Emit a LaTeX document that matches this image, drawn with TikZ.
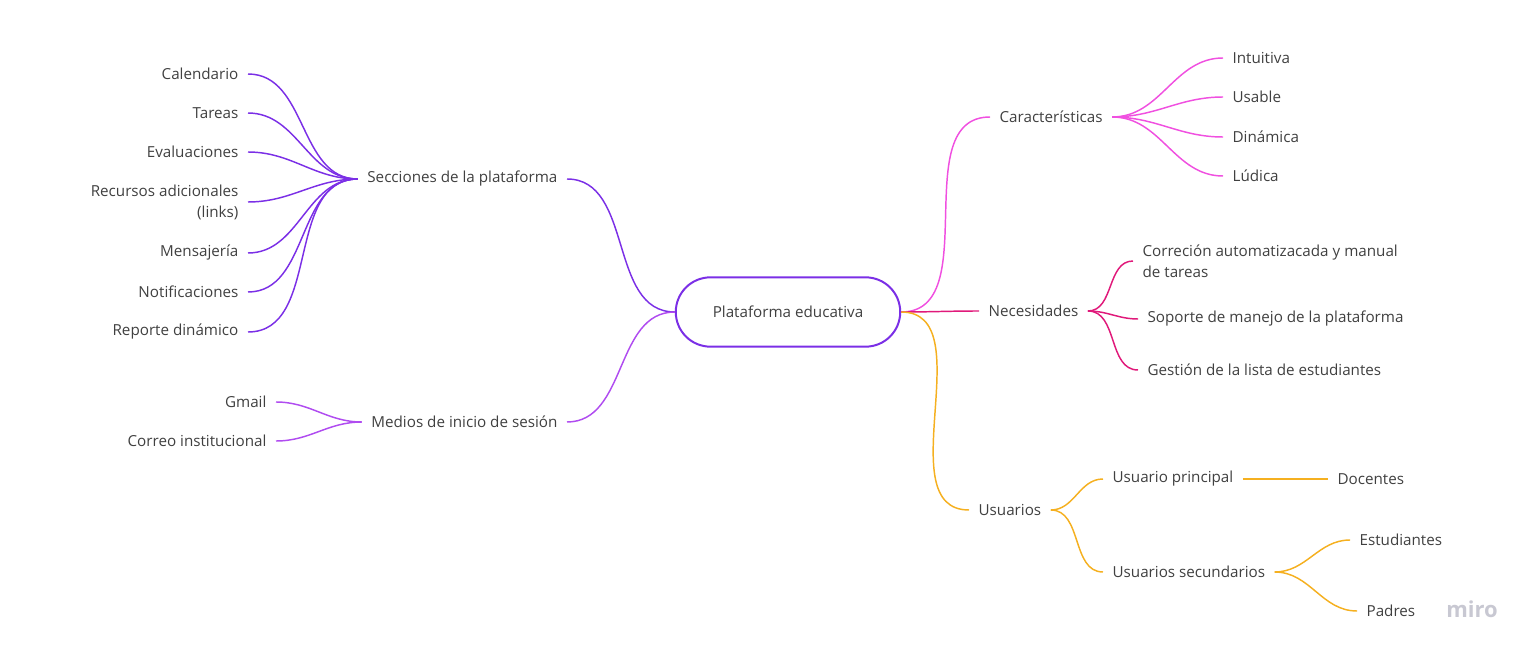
\documentclass[tikz,border=0pt]{standalone}
\usepackage{fontspec}
\setmainfont{Open Sans}
\usetikzlibrary{shapes.misc}

\definecolor{txtgray}{HTML}{404040}
\definecolor{seccol}{HTML}{7B2FE6}
\definecolor{medcol}{HTML}{B04CF0}
\definecolor{carcol}{HTML}{F050E0}
\definecolor{neccol}{HTML}{E0197A}
\definecolor{usucol}{HTML}{F5B020}
\definecolor{mirogray}{HTML}{C8C8D2}

\begin{document}
\begin{tikzpicture}[x=0.75pt,y=-0.75pt,font=\fontsize{11.4}{15.75}\selectfont,
  lbl/.style={inner xsep=7pt,inner ysep=2pt,text=txtgray},
  lft/.style={lbl,anchor=east,align=right},
  rgt/.style={lbl,anchor=west,align=left},
  link/.style={line width=1.1pt,out=0,in=180}]
  \useasboundingbox (0,0) rectangle (1531,652);

  % Centre
  \node[rounded rectangle,draw=seccol,line width=1.5pt,minimum width=175pt,minimum height=52pt,text=txtgray] (plat) at (788,312) {Plataforma educativa};

  % Left: sections
  \node[lft] (secc) at (567,179) {Secciones de la plataforma};
  \node[lft] (cal) at (248,74) {Calendario};
  \node[lft] (tar) at (248,113) {Tareas};
  \node[lft] (eva) at (248,152) {Evaluaciones};
  \node[lft] (rec) at (248,202) {Recursos adicionales\\(links)};
  \node[lft] (men) at (248,253) {Mensajería};
  \node[lft] (noti) at (248,292) {Notificaciones};
  \node[lft] (rep) at (248,332) {Reporte dinámico};
  \draw[link,seccol] (secc.east) to (plat.west);
  \foreach \n in {cal,tar,eva,rec,men,noti,rep}
    \draw[link,seccol] (\n.east) to (secc.west);

  % Left: login
  \node[lft] (med) at (567,422) {Medios de inicio de sesión};
  \node[lft] (gm) at (276,402) {Gmail};
  \node[lft] (corr) at (276,441) {Correo institucional};
  \draw[link,medcol] (med.east) to (plat.west);
  \foreach \n in {gm,corr}
    \draw[link,medcol] (\n.east) to (med.west);

  % Right: features
  \node[rgt] (car) at (990,117) {Características};
  \node[rgt] (intu) at (1223,58) {Intuitiva};
  \node[rgt] (usab) at (1223,97) {Usable};
  \node[rgt] (din) at (1223,137) {Dinámica};
  \node[rgt] (lud) at (1223,176) {Lúdica};
  \draw[link,carcol] (plat.east) to (car.west);
  \foreach \n in {intu,usab,din,lud}
    \draw[link,carcol] (car.east) to (\n.west);

  % Right: needs
  \node[rgt] (nec) at (979,311) {Necesidades};
  \node[rgt] (corre) at (1133,261) {Correción automatizacada y manual\\de tareas};
  \node[rgt] (sop) at (1138,319) {Soporte de manejo de la plataforma};
  \node[rgt] (ges) at (1138,370) {Gestión de la lista de estudiantes};
  \draw[link,neccol] (plat.east) to (nec.west);
  \foreach \n in {corre,sop,ges}
    \draw[link,neccol] (nec.east) to (\n.west);

  % Right: users
  \node[rgt] (usu) at (969,510) {Usuarios};
  \node[rgt] (upr) at (1103,479) {Usuario principal};
  \node[rgt] (doc) at (1328,479) {Docentes};
  \node[rgt] (usec) at (1103,572) {Usuarios secundarios};
  \node[rgt] (est) at (1350,540) {Estudiantes};
  \node[rgt] (pad) at (1357,611) {Padres};
  \draw[link,usucol] (plat.east) to (usu.west);
  \draw[link,usucol] (usu.east) to (upr.west);
  \draw[link,usucol] (usu.east) to (usec.west);
  \draw[line width=1.1pt,usucol] (upr.east) -- (doc.west);
  \draw[link,usucol] (usec.east) to (est.west);
  \draw[link,usucol] (usec.east) to (pad.west);

  \node[text=mirogray,font=\fontsize{16.5}{18}\selectfont\bfseries] (miro) at (1472,609) {miro};
\end{tikzpicture}
\end{document}
